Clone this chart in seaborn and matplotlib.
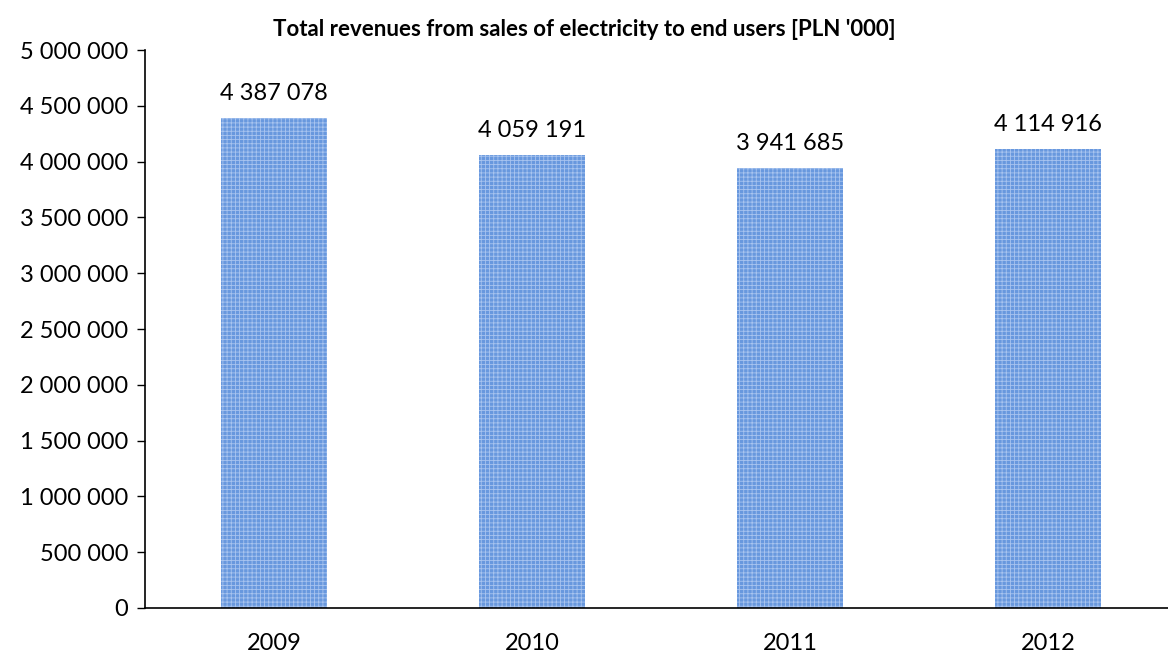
import numpy as np
import pandas as pd
import matplotlib
matplotlib.use('Agg')
import matplotlib.pyplot as plt
import seaborn as sns

years = ['2009', '2010', '2011', '2012']
revenues = [4387078, 4059191, 3941685, 4114916]

df = pd.DataFrame({'year': years, 'revenue': revenues})

sns.set_style('white')
plt.rcParams['font.family'] = ['Lato', 'DejaVu Sans']
plt.rcParams['hatch.linewidth'] = 0.6
plt.rcParams['text.color'] = 'black'


def fmt(v):
    return f'{int(v):,}'.replace(',', ' ')


fig = plt.figure(figsize=(11.68, 6.54), dpi=100)
ax = fig.add_axes([145 / 1168, 46 / 654, (1177 - 145) / 1168, (608 - 50) / 654])

sns.barplot(data=df, x='year', y='revenue', ax=ax, color='#6898de', width=0.41,
            saturation=1)
for p in ax.patches:
    p.set_hatch('++++')
    p.set_edgecolor('#a8c4ef')
    p.set_linewidth(0)

for i, v in enumerate(revenues):
    ax.annotate(fmt(v), xy=(i, v), xytext=(0, 13), textcoords='offset points',
                ha='center', va='baseline', fontsize=17, color='black')

ax.set_xlim(-0.5, 3.5)
ax.set_ylim(0, 5000000)
ax.set_yticks(np.arange(0, 5000001, 500000))
ax.set_yticklabels([fmt(t) for t in ax.get_yticks()], fontsize=17)
ax.set_xticks(range(len(years)))
ax.set_xticklabels(years, fontsize=17)
ax.set_xticks([-0.5, 0.5, 1.5, 2.5], minor=True)
ax.tick_params(axis='x', which='major', length=0, pad=18, labelcolor='black')
ax.tick_params(axis='x', which='minor', length=6, width=1, color='black', direction='out')
ax.tick_params(axis='y', length=6, width=1, color='black', direction='out', left=True, pad=6,
               labelcolor='black')

for s in ['top', 'right']:
    ax.spines[s].set_visible(False)
for s in ['left', 'bottom']:
    ax.spines[s].set_color('black')
    ax.spines[s].set_linewidth(1.2)

ax.set_xlabel('')
ax.set_ylabel('')
fig.text(0.5, 1 - 30 / 654, "Total revenues from sales of electricity to end users [PLN '000]",
         ha='center', va='center', fontsize=16, fontweight='bold', color='black')

fig.savefig('out.png', dpi=100)
